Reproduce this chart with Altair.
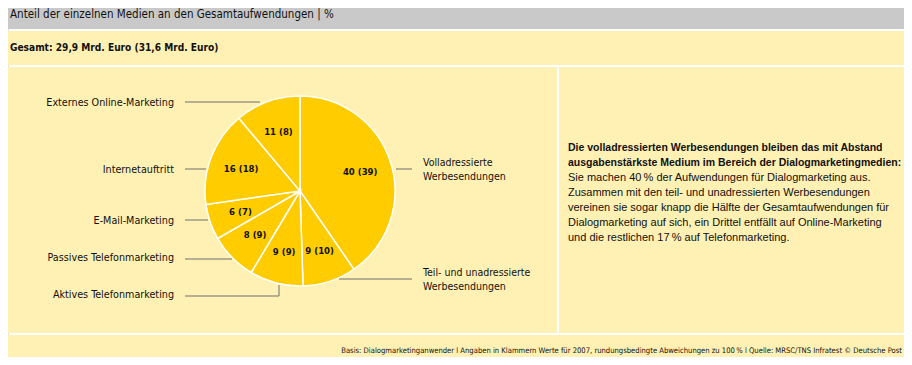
import altair as alt
import pandas as pd

# ---------------- data ----------------
categories = [
    "Volladressierte Werbesendungen",
    "Teil- und unadressierte Werbesendungen",
    "Aktives Telefonmarketing",
    "Passives Telefonmarketing",
    "E-Mail-Marketing",
    "Internetauftritt",
    "Externes Online-Marketing",
]
values_2008 = [40, 9, 9, 8, 6, 16, 11]
values_2007 = [39, 10, 9, 9, 7, 18, 8]

title_text = "Anteil der einzelnen Medien an den Gesamtaufwendungen | %"
total_text = "Gesamt: 29,9 Mrd. Euro (31,6 Mrd. Euro)"
note_bold = ("Die volladressierten Werbesendungen bleiben das mit Abstand\n"
             "ausgabenstärkste Medium im Bereich der Dialogmarketingmedien:")
note_body = ("Sie machen 40\u202f% der Aufwendungen für Dialogmarketing aus.\n"
             "Zusammen mit den teil- und unadressierten Werbesendungen\n"
             "vereinen sie sogar knapp die Hälfte der Gesamtaufwendungen für\n"
             "Dialogmarketing auf sich, ein Drittel entfällt auf Online-Marketing\n"
             "und die restlichen 17\u202f% auf Telefonmarketing.")
footer_text = ("Basis: Dialogmarketinganwender l Angaben in Klammern Werte für 2007, "
               "rundungsbedingte Abweichungen zu 100\u202f% l Quelle: MRSC/TNS Infratest © Deutsche Post")

# ---------------- layout (pixel positions, reference coords minus page margin) ----------------
M = 8
W, H = 896, 349
CX, CY, R = 300 - M, 191 - M, 95

GREY = "#C9C9C9"
PALE = "#FFF0B3"
YELLOW = "#FFCC00"
LINE = "#6E6E6E"
INK = "#111111"
FONT_C = "'DejaVu Sans Condensed', Roboto, sans-serif"
FONT = "Liberation Sans"

df = pd.DataFrame({
    "cat": categories,
    "v": values_2008,
    "v07": values_2007,
    "order": list(range(len(categories))),
})
df["lab"] = [f"{a} ({b})" for a, b in zip(values_2008, values_2007)]

# background panels
bg = pd.DataFrame({
    "x": [0, 0, 0, 559 - M, 0],
    "x2": [W, W, 557 - M, W, W],
    "y": [0, 31 - M, 67 - M, 67 - M, 335 - M],
    "y2": [29 - M, 65 - M, 333 - M, 333 - M, H],
    "c": [GREY, PALE, PALE, PALE, PALE],
})
background = alt.Chart(bg).mark_rect().encode(
    x=alt.X("x:Q", scale=None), x2="x2", y=alt.Y("y:Q", scale=None), y2="y2",
    color=alt.Color("c:N", scale=None),
)

pie = alt.Chart(df).mark_arc(stroke="white", strokeWidth=1.5, color=YELLOW).encode(
    theta=alt.Theta("v:Q", stack=True),
    order=alt.Order("order:Q"),
    radius=alt.value(R),
    x=alt.value(CX), y=alt.value(CY),
)

inner = alt.Chart(df).mark_text(font=FONT_C, fontSize=9.5, fontWeight="bold",
                                color=INK, baseline="middle", align="center").encode(
    theta=alt.Theta("v:Q", stack=True),
    order=alt.Order("order:Q"),
    radius=alt.value(63),
    x=alt.value(CX), y=alt.value(CY),
    text="lab:N",
)

# outside labels
left_labels = pd.DataFrame({
    "t": [categories[6], categories[5], categories[4], categories[3], categories[2]],
    "x": [174 - M] * 5,
    "y": [103 - M, 170 - M, 221 - M, 258 - M, 295 - M],
})
left_text = alt.Chart(left_labels).mark_text(font=FONT_C, fontSize=10.7, color=INK,
                                             align="right", baseline="middle").encode(
    x=alt.X("x:Q", scale=None), y=alt.Y("y:Q", scale=None), text="t:N")

right_labels = pd.DataFrame({
    "t": ["Volladressierte\nWerbesendungen", "Teil- und unadressierte\nWerbesendungen"],
    "x": [423 - M, 423 - M],
    "y": [163 - M, 273 - M],
})
right_text = alt.Chart(right_labels).mark_text(font=FONT_C, fontSize=10.5, color=INK,
                                               align="left", baseline="middle",
                                               lineBreak="\n", lineHeight=14).encode(
    x=alt.X("x:Q", scale=None), y=alt.Y("y:Q", scale=None), text="t:N")

leaders = pd.DataFrame({
    "x": [185, 185, 185, 185, 185, 279, 396, 339],
    "x2": [260, 206, 208, 232, 279, 279, 412, 412],
    "y": [102, 169, 220, 259, 296, 296, 169, 279],
    "y2": [102, 169, 220, 259, 296, 285, 169, 279],
})
for col in ["x", "x2", "y", "y2"]:
    leaders[col] = leaders[col] - M
leader_rules = alt.Chart(leaders).mark_rule(color=LINE, strokeWidth=1).encode(
    x=alt.X("x:Q", scale=None), x2="x2", y=alt.Y("y:Q", scale=None), y2="y2")

def txt(s, x, y, size, weight="normal", font=FONT_C, align="left", lh=None):
    kw = dict(font=font, fontSize=size, fontWeight=weight, color=INK,
              align=align, baseline="middle", lineBreak="\n")
    if lh:
        kw["lineHeight"] = lh
    return alt.Chart(pd.DataFrame({"t": [s]})).mark_text(**kw).encode(
        x=alt.value(x), y=alt.value(y), text="t:N")

title = txt(title_text, 10 - M, 15 - M, 11.5)
total = txt(total_text, 10 - M, 48 - M, 10.1, weight="bold")
nb = txt(note_bold, 568 - M, 148 - M, 10.5, weight="bold", font=FONT, lh=15)
nt = txt(note_body, 568 - M, 178 - M, 11, font=FONT, lh=15)
foot = txt(footer_text, 902 - M, 351 - M, 7.6, align="right")

chart = alt.layer(
    background, pie, inner, leader_rules, left_text, right_text,
    title, total, nb, nt, foot,
).properties(
    width=W, height=H,
    autosize=alt.AutoSizeParams(type="none"),
    padding=0,
).configure_view(stroke=None).configure(background="white")

chart.save("out.html", embed_options={"renderer": "svg", "actions": False})
